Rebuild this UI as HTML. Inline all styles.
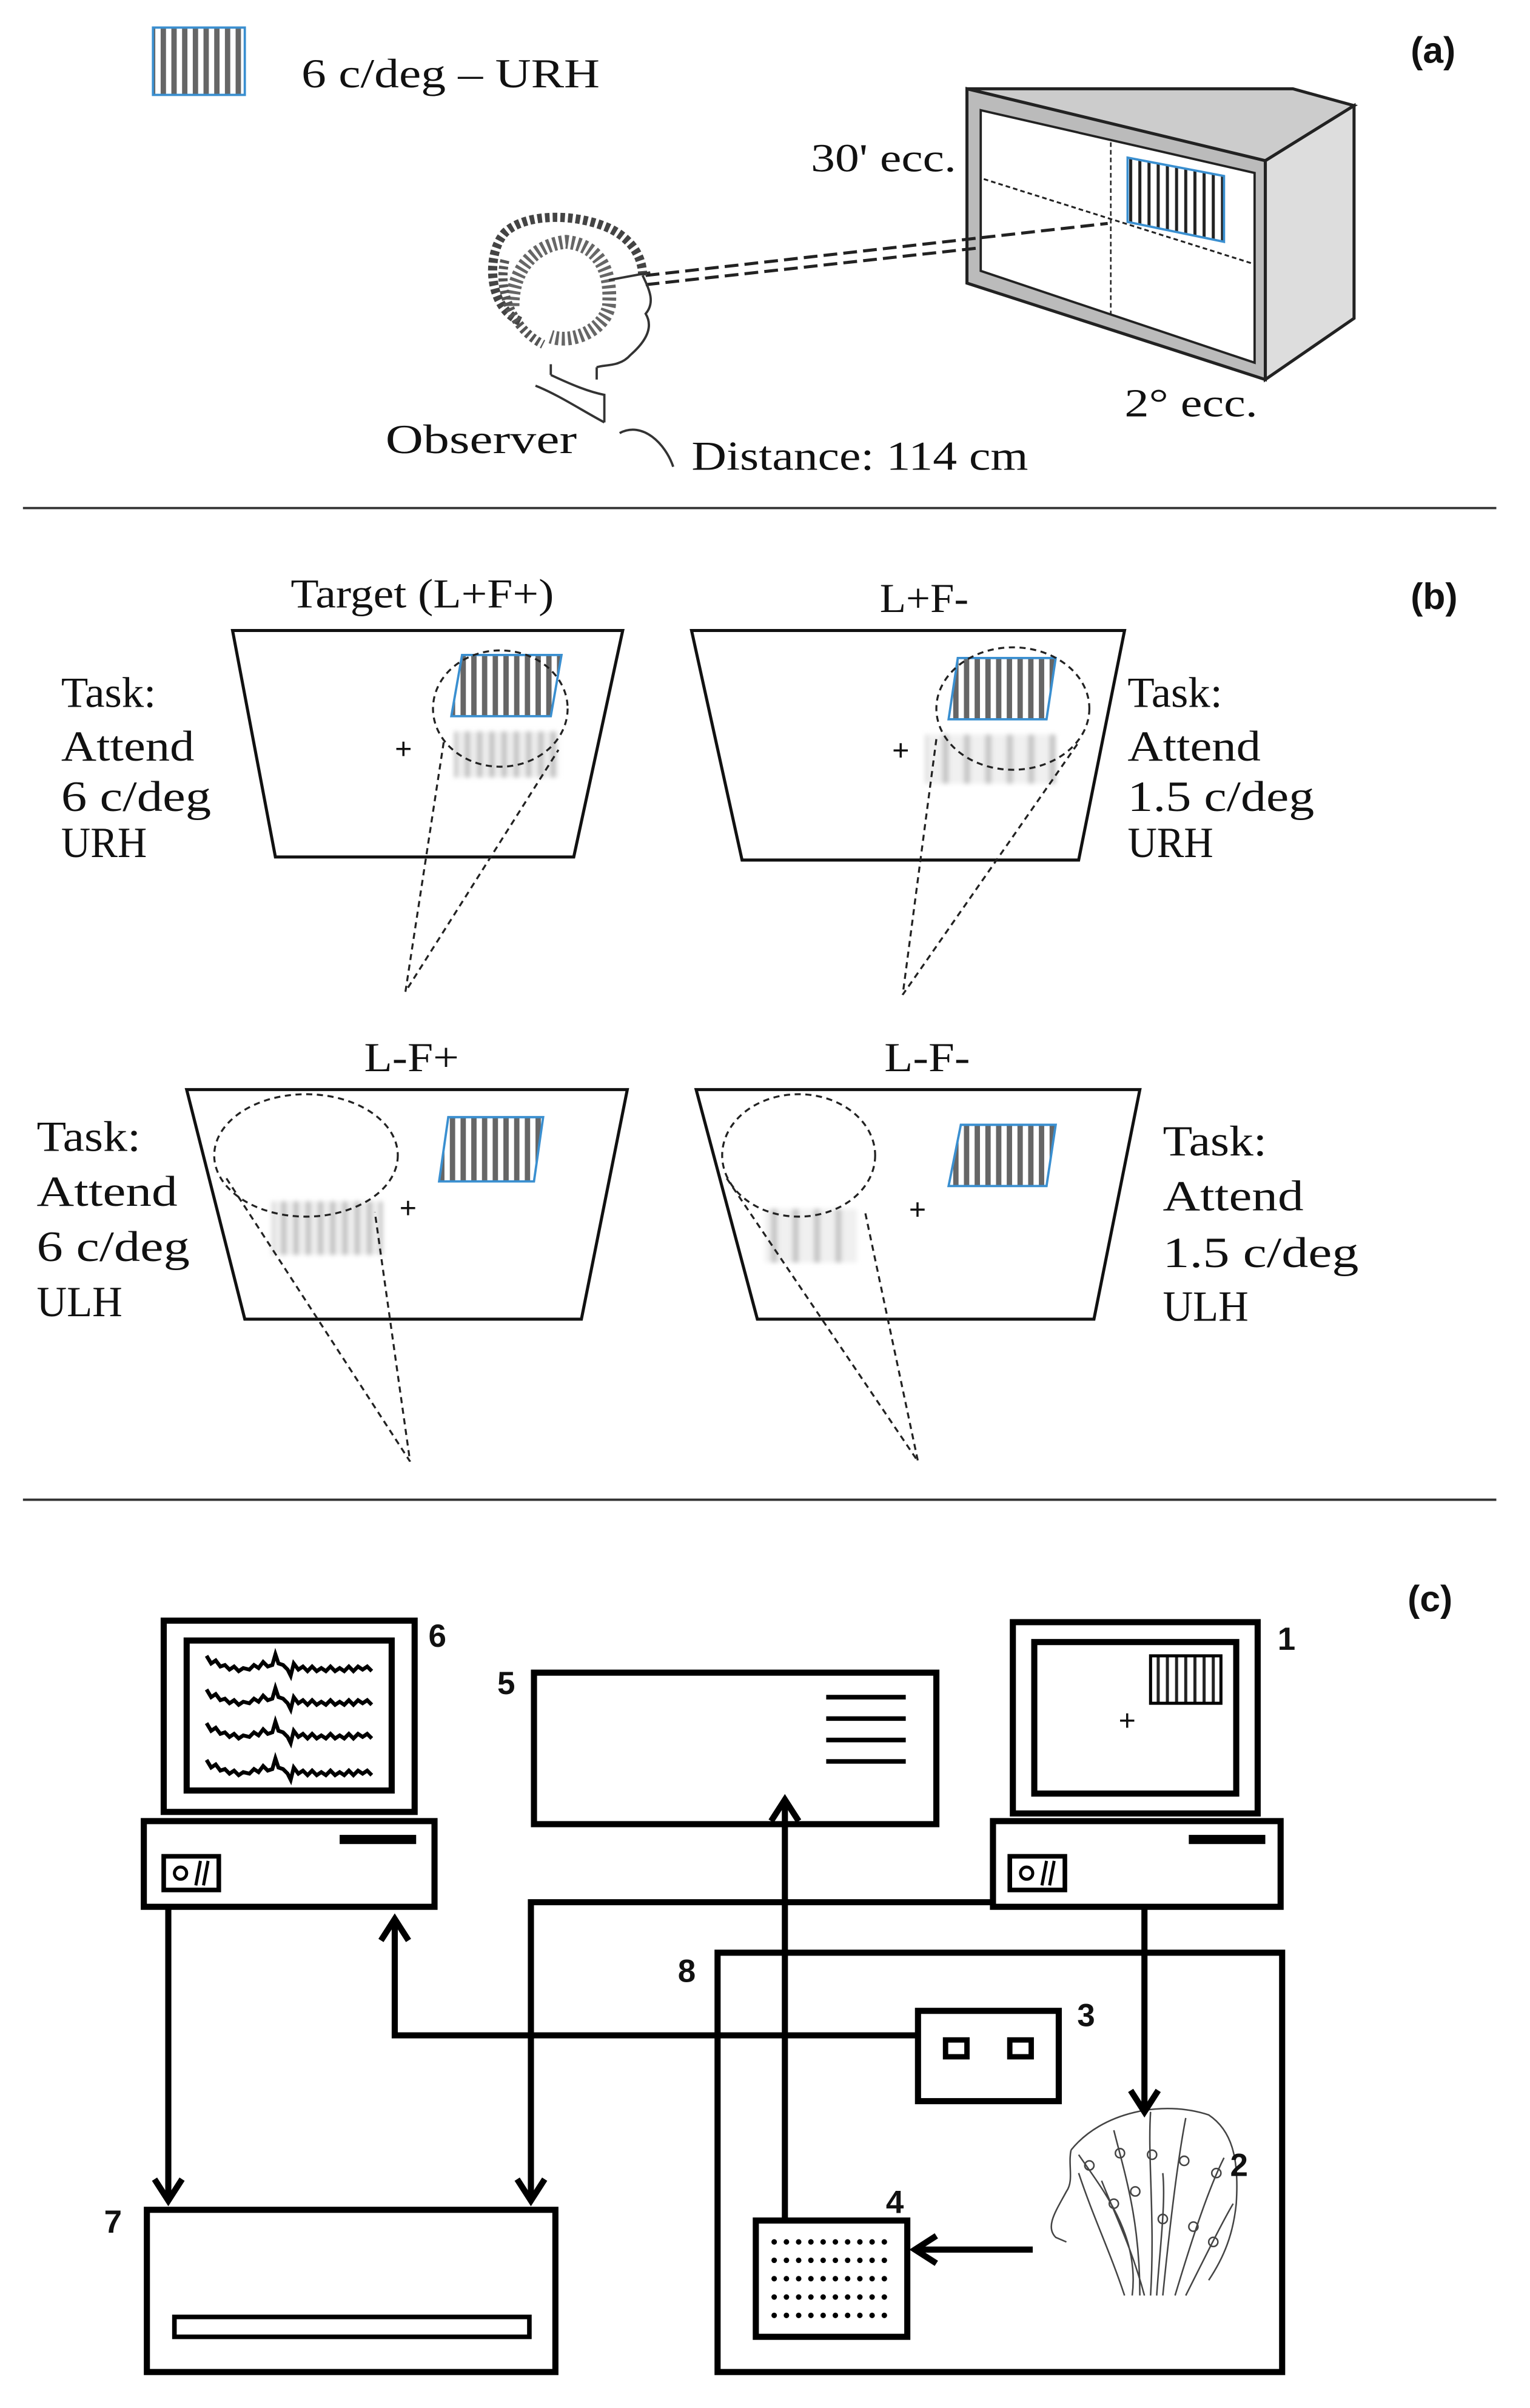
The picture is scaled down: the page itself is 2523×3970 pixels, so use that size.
<!DOCTYPE html>
<html><head><meta charset="utf-8"><style>
html,body{margin:0;padding:0;background:#fff;}
svg{display:block;}
text{font-family:"Liberation Serif",serif;fill:#111;}
.s{font-family:"Liberation Sans",sans-serif;font-weight:bold;}
</style></head><body>
<svg width="2523" height="3970" viewBox="0 0 1000 1573.5" xmlns="http://www.w3.org/2000/svg">
<defs>
<pattern id="gr" width="7" height="10" patternUnits="userSpaceOnUse"><rect width="7" height="10" fill="#fff"/><rect width="3.5" height="10" fill="#666"/></pattern>
<pattern id="gr2" width="6" height="10" patternUnits="userSpaceOnUse"><rect width="6" height="10" fill="#fff"/><rect width="2" height="10" fill="#222"/></pattern>
<pattern id="bl" width="8" height="10" patternUnits="userSpaceOnUse"><rect width="8" height="10" fill="#eee"/><rect width="3" height="10" fill="#bbb"/></pattern>
<pattern id="bl2" width="14" height="10" patternUnits="userSpaceOnUse"><rect width="14" height="10" fill="#f0f0f0"/><rect width="4" height="10" fill="#c4c4c4"/></pattern>
<filter id="blur"><feGaussianBlur stdDeviation="1.5"/></filter>
</defs>

<!-- (a) -->
<rect x="100" y="18" width="60" height="44" fill="url(#gr)" stroke="#3a8fd0" stroke-width="1.5"/>
<text x="197" y="57" font-size="27" textLength="195" lengthAdjust="spacingAndGlyphs">6 c/deg – URH</text>
<text x="922" y="41" font-size="24" class="s">(a)</text>

<polygon points="632,58 845,58 885,69 827,105" fill="#ccc" stroke="#222" stroke-width="2"/>
<polygon points="827,105 885,69 885,208 827,248" fill="#ddd" stroke="#222" stroke-width="2"/>
<polygon points="632,58 827,105 827,248 632,185" fill="#bbb" stroke="#222" stroke-width="2"/>
<polygon points="641,72 820,113 820,237 641,177" fill="#fff" stroke="#222" stroke-width="1.5"/>
<line x1="726" y1="93" x2="726" y2="207" stroke="#222" stroke-width="1" stroke-dasharray="3,2"/>
<line x1="643" y1="117" x2="818" y2="172" stroke="#222" stroke-width="1.2" stroke-dasharray="3,2"/>
<polygon points="737,103 800,115 800,158 737,145" fill="url(#gr2)" stroke="#3a8fd0" stroke-width="1.5"/>
<line x1="422" y1="180" x2="724" y2="146" stroke="#222" stroke-width="2" stroke-dasharray="9,4"/>
<line x1="422" y1="186" x2="640" y2="162" stroke="#222" stroke-width="2" stroke-dasharray="9,4"/>
<text x="530" y="112" font-size="26" textLength="95" lengthAdjust="spacingAndGlyphs">30' ecc.</text>
<text x="735" y="272" font-size="26" textLength="87" lengthAdjust="spacingAndGlyphs">2° ecc.</text>
<text x="252" y="296" font-size="27" textLength="125" lengthAdjust="spacingAndGlyphs">Observer</text>
<text x="452" y="307" font-size="27" textLength="220" lengthAdjust="spacingAndGlyphs">Distance: 114 cm</text>
<!-- head -->
<g fill="none" stroke="#333" stroke-width="1.5">
<path d="M340,210 C318,200 318,165 330,152 C345,138 380,140 400,150 C415,158 420,170 420,180" stroke-width="6" stroke="#444" stroke-dasharray="3,2"/>
<path d="M335,200 C335,175 350,160 370,158 C390,160 400,175 398,200 C395,215 375,225 360,220" stroke="#666" stroke-width="9" stroke-dasharray="2,2"/>
<path d="M330,170 C325,190 335,215 355,225" stroke="#555" stroke-width="6" stroke-dasharray="2,2"/>
<path d="M420,180 C425,190 428,198 422,205 C428,215 420,225 412,232 C405,240 395,238 390,240"/>
<path d="M360,238 L360,245 M390,240 L390,248 M360,245 C375,252 385,256 395,258 L395,276"/>
<path d="M350,252 C365,258 380,268 395,276"/>
<path d="M405,283 C420,275 435,290 440,305"/>
<line x1="398" y1="183" x2="425" y2="178"/>
</g>
<line x1="15" y1="332" x2="978" y2="332" stroke="#333" stroke-width="1.5"/>

<!-- (b) -->
<text x="922" y="398" font-size="24" class="s">(b)</text>
<g stroke="#111" stroke-width="2" fill="#fff">
<polygon points="152,412 407,412 375,560 180,560"/>
<polygon points="452,412 735,412 705,562 485,562"/>
<polygon points="122,712 410,712 380,862 160,862"/>
<polygon points="455,712 745,712 715,862 495,862"/>
</g>
<text x="190" y="397" font-size="27" textLength="172" lengthAdjust="spacingAndGlyphs">Target (L+F+)</text>
<text x="575" y="400" font-size="27" textLength="58" lengthAdjust="spacingAndGlyphs">L+F-</text>
<text x="238" y="700" font-size="27" textLength="62" lengthAdjust="spacingAndGlyphs">L-F+</text>
<text x="578" y="700" font-size="27" textLength="56" lengthAdjust="spacingAndGlyphs">L-F-</text>

<g fill="url(#gr)" stroke="#3a8fd0" stroke-width="1.5">
<polygon points="302,428 367,428 360,468 295,468"/>
<polygon points="626,430 690,430 684,470 620,470"/>
<polygon points="293,730 355,730 349,772 287,772"/>
<polygon points="628,735 690,735 684,775 620,775"/>
</g>
<g filter="url(#blur)">
<rect x="297" y="478" width="68" height="30" fill="url(#bl)"/>
<rect x="605" y="480" width="85" height="32" fill="url(#bl2)"/>
<rect x="178" y="785" width="72" height="35" fill="url(#bl)"/>
<rect x="500" y="790" width="60" height="35" fill="url(#bl2)"/>
</g>
<g font-size="20" font-weight="bold" font-family="Liberation Sans"><text x="258" y="496">+</text><text x="583" y="497">+</text><text x="261" y="796">+</text><text x="594" y="797">+</text></g>
<g fill="none" stroke="#222" stroke-width="1.3" stroke-dasharray="4,3">
<ellipse cx="327" cy="463" rx="44" ry="38"/>
<ellipse cx="662" cy="463" rx="50" ry="40"/>
<ellipse cx="200" cy="755" rx="60" ry="40"/>
<ellipse cx="522" cy="755" rx="50" ry="40"/>
<path d="M290,485 L265,648 L365,490"/>
<path d="M612,483 L590,650 L705,485"/>
<path d="M148,770 L268,955 L245,792"/>
<path d="M475,770 L600,955 L565,790"/>
</g>
<g font-size="28">
<text x="40" y="462" textLength="62" lengthAdjust="spacingAndGlyphs">Task:</text><text x="40" y="497" textLength="87" lengthAdjust="spacingAndGlyphs">Attend</text><text x="40" y="530" textLength="98" lengthAdjust="spacingAndGlyphs">6 c/deg</text><text x="40" y="560" textLength="56" lengthAdjust="spacingAndGlyphs">URH</text>
<text x="737" y="462" textLength="62" lengthAdjust="spacingAndGlyphs">Task:</text><text x="737" y="497" textLength="87" lengthAdjust="spacingAndGlyphs">Attend</text><text x="737" y="530" textLength="122" lengthAdjust="spacingAndGlyphs">1.5 c/deg</text><text x="737" y="560" textLength="56" lengthAdjust="spacingAndGlyphs">URH</text>
<text x="24" y="752" textLength="68" lengthAdjust="spacingAndGlyphs">Task:</text><text x="24" y="788" textLength="92" lengthAdjust="spacingAndGlyphs">Attend</text><text x="24" y="824" textLength="100" lengthAdjust="spacingAndGlyphs">6 c/deg</text><text x="24" y="860" textLength="56" lengthAdjust="spacingAndGlyphs">ULH</text>
<text x="760" y="755" textLength="68" lengthAdjust="spacingAndGlyphs">Task:</text><text x="760" y="791" textLength="92" lengthAdjust="spacingAndGlyphs">Attend</text><text x="760" y="828" textLength="128" lengthAdjust="spacingAndGlyphs">1.5 c/deg</text><text x="760" y="863" textLength="56" lengthAdjust="spacingAndGlyphs">ULH</text>
</g>
<line x1="15" y1="980" x2="978" y2="980" stroke="#333" stroke-width="1.5"/>

<!-- (c) -->
<text x="920" y="1053" font-size="24" class="s">(c)</text>
<g fill="none" stroke="#000" stroke-width="4">
<rect x="107" y="1059" width="164" height="125"/>
<rect x="122" y="1072" width="134" height="98"/>
<rect x="94" y="1190" width="190" height="56"/>
<rect x="107" y="1213" width="36" height="22" stroke-width="3"/>
<rect x="662" y="1060" width="160" height="125"/>
<rect x="676" y="1073" width="132" height="99"/>
<rect x="649" y="1190" width="188" height="56"/>
<rect x="660" y="1213" width="36" height="22" stroke-width="3"/>
<rect x="349" y="1093" width="263" height="99"/>
<rect x="469" y="1276" width="369" height="274"/>
<rect x="600" y="1314" width="92" height="59"/>
<rect x="618" y="1333" width="14" height="11" stroke-width="3.5"/>
<rect x="660" y="1333" width="14" height="11" stroke-width="3.5"/>
<rect x="494" y="1451" width="99" height="76"/>
<rect x="96" y="1444" width="267" height="106"/>
<rect x="114" y="1514" width="232" height="13" stroke-width="3"/>
</g>
<rect x="222" y="1199" width="50" height="6" fill="#000"/>
<rect x="777" y="1199" width="50" height="6" fill="#000"/>
<g fill="none" stroke="#000" stroke-width="2">
<circle cx="118" cy="1224" r="4"/><line x1="128" y1="1232" x2="131" y2="1216"/><line x1="133" y1="1232" x2="136" y2="1216"/>
<circle cx="671" cy="1224" r="4"/><line x1="681" y1="1232" x2="684" y2="1216"/><line x1="686" y1="1232" x2="689" y2="1216"/>
</g>
<g stroke="#000" stroke-width="3">
<line x1="540" y1="1109" x2="592" y2="1109"/><line x1="540" y1="1123" x2="592" y2="1123"/><line x1="540" y1="1137" x2="592" y2="1137"/><line x1="540" y1="1151" x2="592" y2="1151"/>
</g>
<rect x="752" y="1082" width="46" height="31" fill="url(#gr2)" stroke="#000" stroke-width="2"/>
<text x="731" y="1131" font-size="20" font-weight="bold" font-family="Liberation Sans">+</text>
<g fill="none" stroke="#000" stroke-width="2.5">
<path id="w" d="M135,1082 l3,5 3,-2 3,4 3,-1 3,3 3,-2 3,3 3,-2 4,1 3,-3 3,2 3,-4 3,3 3,-1 2,-7 2,6 3,1 3,3 2,4 2,-8 3,4 3,-2 3,3 3,-3 3,3 3,-2 3,2 3,-3 3,3 3,-2 3,2 3,-3 3,3 3,-3 3,2 3,-2 3,3"/>
<use href="#w" y="22"/><use href="#w" y="44"/><use href="#w" y="68"/>
</g>
<g fill="#000">
<circle cx="506" cy="1465" r="1.8"/><circle cx="514" cy="1465" r="1.8"/><circle cx="522" cy="1465" r="1.8"/><circle cx="530" cy="1465" r="1.8"/><circle cx="538" cy="1465" r="1.8"/><circle cx="546" cy="1465" r="1.8"/><circle cx="554" cy="1465" r="1.8"/><circle cx="562" cy="1465" r="1.8"/><circle cx="570" cy="1465" r="1.8"/><circle cx="578" cy="1465" r="1.8"/>
<circle cx="506" cy="1477" r="1.8"/><circle cx="514" cy="1477" r="1.8"/><circle cx="522" cy="1477" r="1.8"/><circle cx="530" cy="1477" r="1.8"/><circle cx="538" cy="1477" r="1.8"/><circle cx="546" cy="1477" r="1.8"/><circle cx="554" cy="1477" r="1.8"/><circle cx="562" cy="1477" r="1.8"/><circle cx="570" cy="1477" r="1.8"/><circle cx="578" cy="1477" r="1.8"/>
<circle cx="506" cy="1489" r="1.8"/><circle cx="514" cy="1489" r="1.8"/><circle cx="522" cy="1489" r="1.8"/><circle cx="530" cy="1489" r="1.8"/><circle cx="538" cy="1489" r="1.8"/><circle cx="546" cy="1489" r="1.8"/><circle cx="554" cy="1489" r="1.8"/><circle cx="562" cy="1489" r="1.8"/><circle cx="570" cy="1489" r="1.8"/><circle cx="578" cy="1489" r="1.8"/>
<circle cx="506" cy="1501" r="1.8"/><circle cx="514" cy="1501" r="1.8"/><circle cx="522" cy="1501" r="1.8"/><circle cx="530" cy="1501" r="1.8"/><circle cx="538" cy="1501" r="1.8"/><circle cx="546" cy="1501" r="1.8"/><circle cx="554" cy="1501" r="1.8"/><circle cx="562" cy="1501" r="1.8"/><circle cx="570" cy="1501" r="1.8"/><circle cx="578" cy="1501" r="1.8"/>
<circle cx="506" cy="1513" r="1.8"/><circle cx="514" cy="1513" r="1.8"/><circle cx="522" cy="1513" r="1.8"/><circle cx="530" cy="1513" r="1.8"/><circle cx="538" cy="1513" r="1.8"/><circle cx="546" cy="1513" r="1.8"/><circle cx="554" cy="1513" r="1.8"/><circle cx="562" cy="1513" r="1.8"/><circle cx="570" cy="1513" r="1.8"/><circle cx="578" cy="1513" r="1.8"/>
</g>
<!-- EEG head -->
<g fill="none" stroke="#444" stroke-width="1">
<path d="M700,1405 C720,1380 760,1372 790,1382 C805,1392 810,1410 808,1440 C806,1460 800,1475 790,1490"/>
<path d="M700,1405 C698,1415 702,1425 697,1432 C690,1445 683,1455 690,1462 L697,1465"/>
<path d="M740,1500 C745,1460 720,1430 705,1408 M745,1500 C745,1450 735,1420 728,1392 M752,1500 C755,1450 750,1410 752,1380 M760,1500 C765,1450 770,1410 775,1384 M768,1500 C780,1460 790,1430 800,1410 M775,1500 C790,1470 800,1450 806,1440 M735,1500 C725,1470 715,1450 705,1420 M748,1500 C740,1470 730,1450 720,1425 M756,1500 C758,1470 762,1440 760,1420"/>
<circle cx="712" cy="1415" r="3"/><circle cx="732" cy="1407" r="3"/><circle cx="753" cy="1408" r="3"/><circle cx="774" cy="1412" r="3"/><circle cx="795" cy="1420" r="3"/><circle cx="728" cy="1440" r="3"/><circle cx="760" cy="1450" r="3"/><circle cx="780" cy="1455" r="3"/><circle cx="793" cy="1465" r="3"/><circle cx="742" cy="1432" r="3"/>
</g>
<!-- connectors -->
<g fill="none" stroke="#000" stroke-width="4">
<path d="M110,1246 V1436"/>
<path d="M748,1246 V1378"/>
<path d="M648,1243 H347 V1436"/>
<path d="M600,1330 H258 V1256"/>
<path d="M513,1451 V1178"/>
<path d="M675,1470 H600"/>
<path d="M101,1424 L110,1438 L119,1424"/>
<path d="M739,1366 L748,1380 L757,1366"/>
<path d="M338,1424 L347,1438 L356,1424"/>
<path d="M249,1268 L258,1254 L267,1268"/>
<path d="M504,1190 L513,1176 L522,1190"/>
<path d="M612,1461 L598,1470 L612,1479"/>
</g>
<g class="s" font-size="21">
<text x="280" y="1076" class="s">6</text>
<text x="835" y="1078" class="s">1</text>
<text x="325" y="1107" class="s">5</text>
<text x="443" y="1295" class="s">8</text>
<text x="704" y="1324" class="s">3</text>
<text x="804" y="1422" class="s">2</text>
<text x="579" y="1446" class="s">4</text>
<text x="68" y="1459" class="s">7</text>
</g>
</svg>
</body></html>
